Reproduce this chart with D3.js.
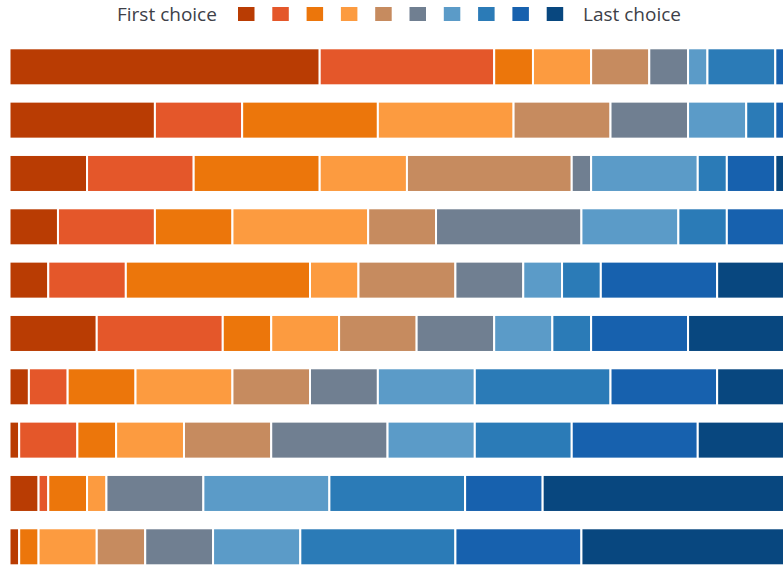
<!DOCTYPE html>
<html>
<head>
<meta charset="utf-8">
<script src="https://cdn.jsdelivr.net/npm/d3@7"></script>
<style>
  body { margin: 0; background: #fff; overflow: hidden; }
  text { font-family: "Open Sans", "Noto Sans", sans-serif; fill: #3d4048; }
</style>
</head>
<body>
<script>
// ten items, each ranked by 80 voters; one array per rank (first .. last)
var items = ["A", "B", "C", "D", "E", "F", "G", "H", "I", "J"];
var ranks = ["r1", "r2", "r3", "r4", "r5", "r6", "r7", "r8", "r9", "r10"];
var r1  = [32, 15, 8, 5, 4, 9, 2, 1, 3, 1];
var r2  = [18, 9, 11, 10, 8, 13, 4, 6, 1, 0];
var r3  = [4, 14, 13, 8, 19, 5, 7, 4, 4, 2];
var r4  = [6, 14, 9, 14, 5, 7, 10, 7, 2, 6];
var r5  = [6, 10, 17, 7, 10, 8, 8, 9, 0, 5];
var r6  = [4, 8, 2, 15, 7, 8, 7, 12, 10, 7];
var r7  = [2, 6, 11, 10, 4, 6, 10, 9, 13, 9];
var r8  = [7, 3, 3, 5, 4, 4, 14, 10, 14, 16];
var r9  = [1, 1, 5, 6, 12, 10, 11, 13, 8, 13];
var r10 = [0, 0, 1, 0, 7, 10, 7, 9, 25, 21];
var colors = ["#b93c03", "#e4572a", "#ec760b", "#fc9b40", "#c68b5f",
              "#707f91", "#5b9bc8", "#2b7bb7", "#1761ae", "#08477f"];
var legendLabels = ["First choice", "Last choice"];

var width = 783, height = 568;
var total = 80;

var svg = d3.select("body").append("svg")
    .attr("width", width)
    .attr("height", height);

// build table for the stack
var series = [r1, r2, r3, r4, r5, r6, r7, r8, r9, r10];
var table = items.map(function (name, i) {
    var row = {item: name};
    ranks.forEach(function (k, j) { row[k] = series[j][i]; });
    return row;
});

var stacked = d3.stack().keys(ranks)(table);

var x = d3.scaleLinear()
    .domain([0, total])
    .range([9.5, 785]);

var y = d3.scaleBand()
    .domain(items)
    .range([48.3, 565.3])
    .paddingInner(0.306)
    .paddingOuter(0);

var color = d3.scaleOrdinal()
    .domain(ranks)
    .range(colors);

svg.append("g")
    .selectAll("g")
    .data(stacked)
    .enter()
    .append("g")
    .attr("fill", function (d) { return color(d.key); })
    .selectAll("rect")
    .data(function (d) { return d.filter(function (s) { return s[1] > s[0]; }); })
    .enter()
    .append("rect")
    .attr("x", function (d) { return x(d[0]); })
    .attr("y", function (d) { return y(d.data.item); })
    .attr("width", function (d) { return x(d[1]) - x(d[0]); })
    .attr("height", y.bandwidth())
    .attr("stroke", "#fff")
    .attr("stroke-width", 2);

// legend
var legend = svg.append("g");

var legendX = d3.scaleBand()
    .domain(ranks)
    .range([238, 563.2])
    .paddingInner(0.519)
    .paddingOuter(0);

legend.selectAll("rect")
    .data(ranks)
    .enter()
    .append("rect")
    .attr("x", function (d) { return legendX(d); })
    .attr("y", 7)
    .attr("width", legendX.bandwidth())
    .attr("height", 14)
    .attr("fill", function (d) { return color(d); });

legend.append("text")
    .attr("x", 117)
    .attr("y", 21)
    .style("font-size", "19px")
    .text(legendLabels[0]);

legend.append("text")
    .attr("x", 583)
    .attr("y", 21)
    .style("font-size", "19px")
    .text(legendLabels[1]);
</script>
</body>
</html>
